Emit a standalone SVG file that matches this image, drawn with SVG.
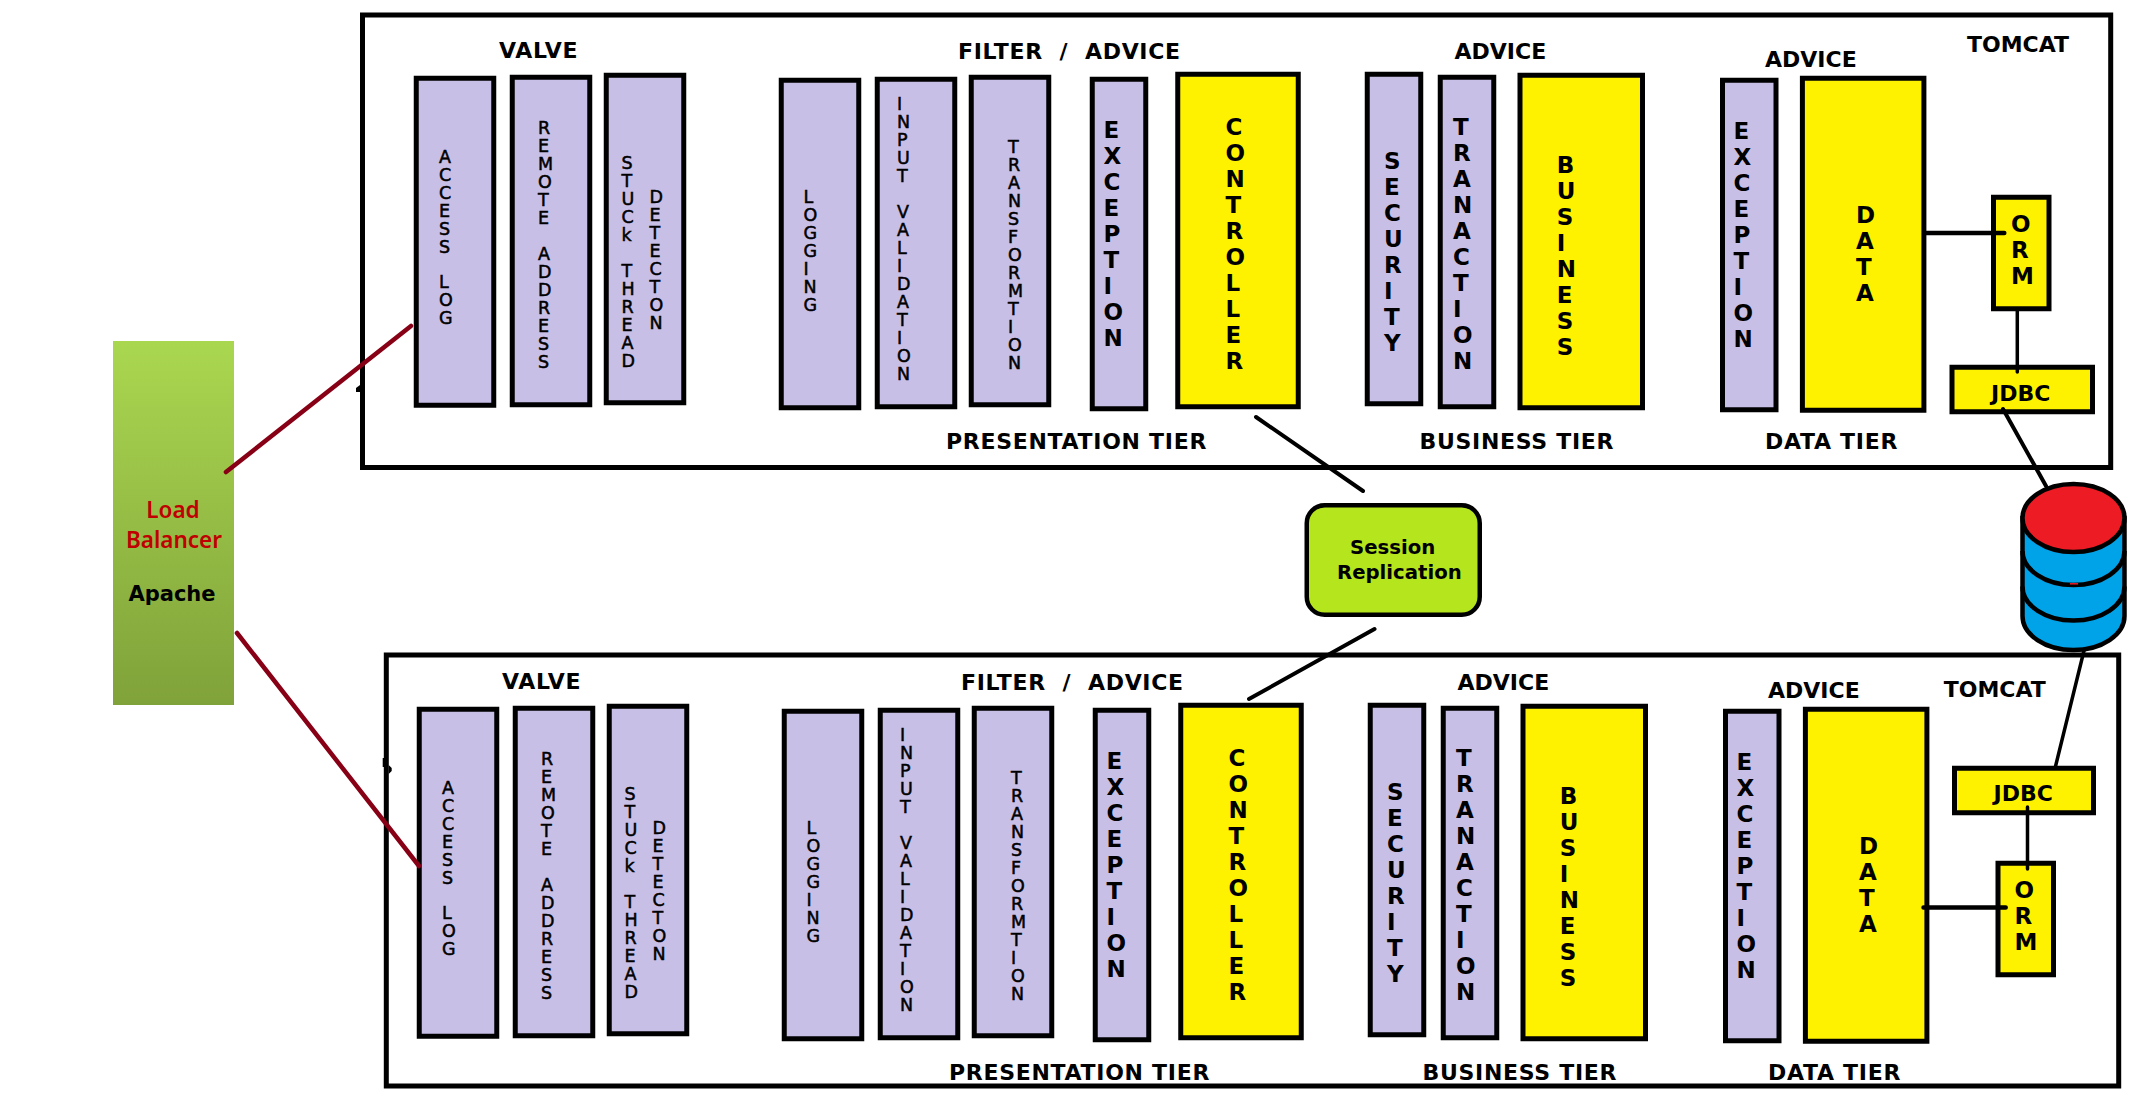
<svg xmlns="http://www.w3.org/2000/svg" width="2131" height="1101" viewBox="0 0 2131 1101">
<style>
text{font-family:"DejaVu Sans",Verdana,sans-serif;fill:#000}
.l{font-weight:700;font-size:22px}
.w{letter-spacing:.7px}
.b{font-weight:700;font-size:23px}
.s{font-size:17.5px;stroke:#000;stroke-width:.5px}
.n{font-family:"Noto Sans",sans-serif;font-weight:600;font-size:22.500px;fill:#c00000;text-anchor:middle}
.box{fill:#fff;stroke:#000;stroke-width:5}
.lav{fill:#c8bfe7;stroke:#000;stroke-width:5}
.yel{fill:#fff200;stroke:#000;stroke-width:5}
.con{fill:none;stroke:#000;stroke-linecap:round}
.lb{fill:none;stroke:#880015;stroke-width:4.500;stroke-linecap:round}
.db{stroke:#000;stroke-width:4.500}
</style>
<defs>
<linearGradient id="lbg" x1="0" y1="0" x2="0" y2="1"><stop offset="0" stop-color="#aad750"/><stop offset="1" stop-color="#80a23a"/></linearGradient>
</defs>
<g id="load-balancer">
<rect x="113" y="341" width="121" height="364" fill="url(#lbg)"/>
<text class="n" x="173" y="517.700">Load</text>
<text class="n" x="174" y="547.700">Balancer</text>
<text x="172" y="601" text-anchor="middle" style="font-weight:700;font-size:21px">Apache</text>
</g>
<g id="database">
<path class="db" fill="#00a2e8" d="M2022.500 518V616A51 34 0 0 0 2124.500 616V518Z"/>
<path class="db" fill="none" d="M2022.500 551A51 34 0 0 0 2124.500 551M2022.500 586.500A51 34 0 0 0 2124.500 586.500"/>
<path d="M2070 583.800H2078" stroke="#ed1c24" stroke-width="1.500"/>
<ellipse class="db" fill="#ed1c24" cx="2073.500" cy="518" rx="51" ry="34"/>
</g>
<g id="tomcat-1">
<rect class="box" x="362.500" y="15" width="1748.200" height="452.500"/>
<path d="M360 385l-4 3v4h4z"/>
<text class="l w" x="499" y="58">VALVE</text>
<text class="l w" x="958" y="58.500" xml:space="preserve">FILTER  /  ADVICE</text>
<text class="l" x="1454.500" y="59">ADVICE</text>
<text class="l" x="1765" y="67">ADVICE</text>
<text class="l" x="1967" y="52">TOMCAT</text>
<text class="l w" x="946" y="448.500">PRESENTATION TIER</text>
<text class="l w" x="1419.500" y="449">BUSINESS TIER</text>
<text class="l w" x="1765" y="449">DATA TIER</text>
<g id="access-log-1"><rect class="lav" x="416.250" y="78.250" width="77.500" height="327"/><text class="s" x="439 439 439 439 439 439" y="162.500 180.500 198.500 216.500 234.500 252.500">ACCESS</text><text class="s" x="439 439 439" y="288 306 324">LOG</text></g>
<g id="remote-address-1"><rect class="lav" x="512.250" y="77.250" width="77.500" height="327.500"/><text class="s" x="538 538 538 538 538 538" y="134 152 170 188 206 224">REMOTE</text><text class="s" x="538 538 538 538 538 538 538" y="260 278 296 314 332 350 368">ADDRESS</text></g>
<g id="stuck-thread-1"><rect class="lav" x="606.250" y="75.250" width="77.500" height="327.500"/><text class="s" x="621.500 621.500 621.500 621.500 621.500" y="168.500 186.500 204.500 222.500 240.500">STUCk</text><text class="s" x="621.500 621.500 621.500 621.500 621.500 621.500" y="276.500 294.500 312.500 330.500 348.500 366.500">THREAD</text><text class="s" x="649.500 649.500 649.500 649.500 649.500 649.500 649.500 649.500" y="203 221 239 257 275 293 311 329">DETECTON</text></g>
<g id="logging-1"><rect class="lav" x="781.250" y="80.250" width="77.500" height="327.500"/><text class="s" x="803.500 803.500 803.500 803.500 803.500 803.500 803.500" y="202.500 220.500 238.500 256.500 274.500 292.500 310.500">LOGGING</text></g>
<g id="input-validation-1"><rect class="lav" x="877.250" y="79.250" width="77.500" height="327.500"/><text class="s" x="897 897 897 897 897" y="110 128 146 164 182">INPUT</text><text class="s" x="897 897 897 897 897 897 897 897 897 897" y="218 236 254 272 290 308 326 344 362 380">VALIDATION</text></g>
<g id="transformtion-1"><rect class="lav" x="971.250" y="77.250" width="77.500" height="327.500"/><text class="s" x="1008 1008 1008 1008 1008 1008 1008 1008 1008 1008 1008 1008 1008" y="152.500 170.500 188.500 206.500 224.500 242.500 260.500 278.500 296.500 314.500 332.500 350.500 368.500">TRANSFORMTION</text></g>
<g id="exception-p-1"><rect class="lav" x="1092.250" y="79.250" width="53.500" height="329.500"/><text class="b" x="1103.500 1103.500 1103.500 1103.500 1103.500 1103.500 1103.500 1103.500 1103.500" y="138 164 190 216 242 268 294 320 346">EXCEPTION</text></g>
<g id="controller-1"><rect class="yel" x="1177.750" y="74.250" width="120.500" height="332.500"/><text class="b" x="1225.500 1225.500 1225.500 1225.500 1225.500 1225.500 1225.500 1225.500 1225.500 1225.500" y="135 161 187 213 239 265 291 317 343 369">CONTROLLER</text></g>
<g id="security-1"><rect class="lav" x="1367.250" y="74.250" width="53.500" height="329.500"/><text class="b" x="1384 1384 1384 1384 1384 1384 1384 1384" y="169 195 221 247 273 299 325 351">SECURITY</text></g>
<g id="tranaction-1"><rect class="lav" x="1440.250" y="77.250" width="53.500" height="329.500"/><text class="b" x="1453 1453 1453 1453 1453 1453 1453 1453 1453 1453" y="135 161 187 213 239 265 291 317 343 369">TRANACTION</text></g>
<g id="business-1"><rect class="yel" x="1520" y="75.250" width="122.500" height="332.500"/><text class="b" x="1556.800 1556.800 1556.800 1556.800 1556.800 1556.800 1556.800 1556.800" y="172.500 198.500 224.500 250.500 276.500 302.500 328.500 354.500">BUSINESS</text></g>
<g id="exception-d-1"><rect class="lav" x="1722.500" y="80.250" width="53.500" height="329.500"/><text class="b" x="1733.500 1733.500 1733.500 1733.500 1733.500 1733.500 1733.500 1733.500 1733.500" y="139 165 191 217 243 269 295 321 347">EXCEPTION</text></g>
<g id="data-1"><rect class="yel" x="1802.400" y="78.250" width="121.500" height="332"/><text class="b" x="1856 1856 1856 1856" y="223 249 275 301">DATA</text></g>
<g id="orm-1"><rect class="yel" x="1993.500" y="197.250" width="55.500" height="111.500"/><text class="b" x="2011 2011 2011" y="231.500 257.500 283.500">ORM</text></g>
<g id="jdbc-1"><rect class="yel" x="1952" y="367.250" width="140.500" height="44.500"/><text class="l" x="1991" y="400.700">JDBC</text></g>
</g>
<g id="tomcat-2">
<rect class="box" x="386.300" y="655" width="1732.400" height="431"/>
<path d="M384 758h-1.300v9h1.300zM388.700 765l3 3v3l-3 3z"/>
<g transform="translate(3 631)">
<text class="l w" x="499" y="58">VALVE</text>
<text class="l w" x="958" y="58.500" xml:space="preserve">FILTER  /  ADVICE</text>
<text class="l" x="1454.500" y="59">ADVICE</text>
<text class="l" x="1765" y="67">ADVICE</text>
<text class="l w" x="946" y="448.500">PRESENTATION TIER</text>
<text class="l w" x="1419.500" y="449">BUSINESS TIER</text>
<text class="l w" x="1765" y="449">DATA TIER</text>
<g id="access-log-2"><rect class="lav" x="416.250" y="78.250" width="77.500" height="327"/><text class="s" x="439 439 439 439 439 439" y="162.500 180.500 198.500 216.500 234.500 252.500">ACCESS</text><text class="s" x="439 439 439" y="288 306 324">LOG</text></g>
<g id="remote-address-2"><rect class="lav" x="512.250" y="77.250" width="77.500" height="327.500"/><text class="s" x="538 538 538 538 538 538" y="134 152 170 188 206 224">REMOTE</text><text class="s" x="538 538 538 538 538 538 538" y="260 278 296 314 332 350 368">ADDRESS</text></g>
<g id="stuck-thread-2"><rect class="lav" x="606.250" y="75.250" width="77.500" height="327.500"/><text class="s" x="621.500 621.500 621.500 621.500 621.500" y="168.500 186.500 204.500 222.500 240.500">STUCk</text><text class="s" x="621.500 621.500 621.500 621.500 621.500 621.500" y="276.500 294.500 312.500 330.500 348.500 366.500">THREAD</text><text class="s" x="649.500 649.500 649.500 649.500 649.500 649.500 649.500 649.500" y="203 221 239 257 275 293 311 329">DETECTON</text></g>
<g id="logging-2"><rect class="lav" x="781.250" y="80.250" width="77.500" height="327.500"/><text class="s" x="803.500 803.500 803.500 803.500 803.500 803.500 803.500" y="202.500 220.500 238.500 256.500 274.500 292.500 310.500">LOGGING</text></g>
<g id="input-validation-2"><rect class="lav" x="877.250" y="79.250" width="77.500" height="327.500"/><text class="s" x="897 897 897 897 897" y="110 128 146 164 182">INPUT</text><text class="s" x="897 897 897 897 897 897 897 897 897 897" y="218 236 254 272 290 308 326 344 362 380">VALIDATION</text></g>
<g id="transformtion-2"><rect class="lav" x="971.250" y="77.250" width="77.500" height="327.500"/><text class="s" x="1008 1008 1008 1008 1008 1008 1008 1008 1008 1008 1008 1008 1008" y="152.500 170.500 188.500 206.500 224.500 242.500 260.500 278.500 296.500 314.500 332.500 350.500 368.500">TRANSFORMTION</text></g>
<g id="exception-p-2"><rect class="lav" x="1092.250" y="79.250" width="53.500" height="329.500"/><text class="b" x="1103.500 1103.500 1103.500 1103.500 1103.500 1103.500 1103.500 1103.500 1103.500" y="138 164 190 216 242 268 294 320 346">EXCEPTION</text></g>
<g id="controller-2"><rect class="yel" x="1177.750" y="74.250" width="120.500" height="332.500"/><text class="b" x="1225.500 1225.500 1225.500 1225.500 1225.500 1225.500 1225.500 1225.500 1225.500 1225.500" y="135 161 187 213 239 265 291 317 343 369">CONTROLLER</text></g>
<g id="security-2"><rect class="lav" x="1367.250" y="74.250" width="53.500" height="329.500"/><text class="b" x="1384 1384 1384 1384 1384 1384 1384 1384" y="169 195 221 247 273 299 325 351">SECURITY</text></g>
<g id="tranaction-2"><rect class="lav" x="1440.250" y="77.250" width="53.500" height="329.500"/><text class="b" x="1453 1453 1453 1453 1453 1453 1453 1453 1453 1453" y="135 161 187 213 239 265 291 317 343 369">TRANACTION</text></g>
<g id="business-2"><rect class="yel" x="1520" y="75.250" width="122.500" height="332.500"/><text class="b" x="1556.800 1556.800 1556.800 1556.800 1556.800 1556.800 1556.800 1556.800" y="172.500 198.500 224.500 250.500 276.500 302.500 328.500 354.500">BUSINESS</text></g>
<g id="exception-d-2"><rect class="lav" x="1722.500" y="80.250" width="53.500" height="329.500"/><text class="b" x="1733.500 1733.500 1733.500 1733.500 1733.500 1733.500 1733.500 1733.500 1733.500" y="139 165 191 217 243 269 295 321 347">EXCEPTION</text></g>
<g id="data-2"><rect class="yel" x="1802.400" y="78.250" width="121.500" height="332"/><text class="b" x="1856 1856 1856 1856" y="223 249 275 301">DATA</text></g>
</g>
<text class="l" x="1943.700" y="697">TOMCAT</text>
<g id="jdbc-2"><rect class="yel" x="1954.500" y="768.250" width="139" height="44.500"/><text class="l" x="1993.500" y="801">JDBC</text></g>
<g id="orm-2"><rect class="yel" x="1998" y="863.250" width="55.500" height="111.500"/><text class="b" x="2014.500 2014.500 2014.500" y="897.500 923.500 949.500">ORM</text></g>
</g>
<g id="session-replication">
<rect x="1306.750" y="505.250" width="173" height="109.500" rx="18" fill="#b5e61d" stroke="#000" stroke-width="4.500"/>
<text x="1350" y="553.500" style="font-weight:700;font-size:19.700px">Session</text>
<text x="1337" y="578.500" style="font-weight:700;font-size:19.700px">Replication</text>
</g>
<g id="connectors">
<path class="lb" d="M226 472L411 326M237 633L419 866"/>
<path class="con" stroke-width="4" d="M1256 417L1363 491M1374.500 629L1249 699"/>
<path class="con" stroke-width="4.500" d="M1926.400 233H2004.300M1923.500 907.500H2005.700"/>
<path class="con" stroke-width="3.500" d="M2017.300 311V372M2027.500 807V869"/>
<path class="con" stroke-width="4" d="M2003 409L2046 486"/>
<path class="con" stroke-width="3.500" d="M2084.400 649L2055.600 766"/>
</g>
</svg>
